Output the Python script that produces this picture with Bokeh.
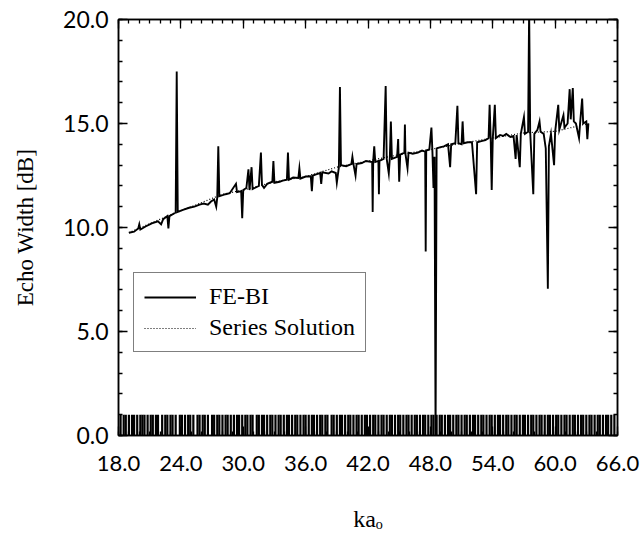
from bokeh.plotting import figure
from bokeh.models import (Range1d, SingleIntervalTicker, LinearAxis, Legend,
                          LegendItem, PrintfTickFormatter, CustomJSTickFormatter)
from bokeh.embed import file_html
from bokeh.resources import INLINE

# ---------------- data ----------------
febi_x = [19.0, 19.5, 19.9, 20.0, 20.1, 20.6, 21.2, 21.8, 22.1, 22.3, 22.7, 22.8, 22.9,
          23.5, 23.6, 23.7, 24.2, 24.8, 25.3, 25.8, 26.2, 26.6, 26.9, 27.2, 27.4, 27.5,
          27.6, 27.7, 28.3, 28.7, 29.3, 29.4, 29.8, 29.9, 30.0, 30.3, 30.5, 30.6, 30.8,
          30.9, 31.1, 31.5, 31.7, 31.8, 32.0, 32.3, 32.8, 32.9, 33.0, 33.5, 33.8, 34.2,
          34.3, 34.4, 34.8, 35.3, 35.4, 35.5, 36.0, 36.5, 36.6, 36.7, 37.0, 37.4, 37.5,
          37.6, 38.2, 38.5, 38.9, 39.0, 39.2, 39.3, 39.4, 39.9, 40.4, 40.5, 40.6, 40.8,
          40.9, 41.4, 41.8, 42.4, 42.45, 42.5, 42.6, 42.7, 43.0, 43.05, 43.1, 43.5, 43.7,
          43.8, 44.0, 44.1, 44.2, 44.3, 44.8, 44.9, 45.0, 45.1, 45.5, 45.55, 45.6, 45.8,
          45.9, 46.3, 46.8, 47.2, 47.5, 47.55, 47.6, 47.9, 48.1, 48.2, 48.3, 48.4, 48.5,
          48.6, 48.9, 49.3, 49.7, 49.9, 50.0, 50.4, 50.6, 50.7, 51.0, 51.1, 51.2, 51.6,
          52.0, 52.4, 52.5, 52.9, 53.3, 53.6, 53.7, 53.8, 53.9, 54.0, 54.2, 54.3, 54.7,
          55.0, 55.3, 55.7, 56.0, 56.2, 56.3, 56.6, 56.7, 57.0, 57.1, 57.4, 57.5, 57.6,
          57.9, 58.0, 58.3, 58.5, 58.6, 58.9, 59.1, 59.3, 59.4, 59.6, 59.9, 60.0, 60.3,
          60.4, 60.8, 60.9, 61.2, 61.4, 61.5, 61.7, 61.8, 62.0, 62.3, 62.4, 62.6, 62.7,
          63.0, 63.1, 63.2]
febi_y = [9.75, 9.8, 9.95, 10.15, 9.9, 10.05, 10.2, 10.3, 10.15, 10.4, 10.55, 9.95, 10.55,
          10.72, 17.5, 10.75, 10.85, 10.95, 11.0, 11.1, 11.15, 11.1, 11.25, 11.35, 11.0, 11.45,
          13.9, 11.5, 11.6, 11.65, 12.1, 11.7, 11.75, 10.45, 11.8, 11.9, 12.8, 11.8, 12.9,
          11.85, 11.9, 12.0, 13.6, 12.05, 11.9, 12.1, 12.2, 13.2, 12.15, 12.2, 12.25, 12.3,
          13.6, 12.3, 12.4, 12.38, 12.85, 12.35, 12.45, 12.46, 11.74, 12.5, 12.55, 12.62, 12.1,
          12.65, 12.6, 12.7, 12.62, 12.15, 12.9, 16.75, 13.0, 12.95, 13.05, 13.4, 13.05, 12.5,
          13.05, 13.1, 13.2, 13.15, 10.75, 13.2, 13.9, 13.15, 13.2, 11.6, 13.2, 13.3, 16.8,
          13.3, 12.6, 13.35, 15.1, 13.3, 13.4, 14.25, 12.2, 13.5, 13.6, 14.95, 13.55, 12.85,
          13.6, 13.55, 13.6, 13.7, 13.65, 8.85, 13.7, 13.75, 14.8, 13.6, 11.9, 13.4, 0.0,
          13.8, 13.85, 13.9, 14.0, 12.9, 14.0, 14.05, 15.85, 14.05, 14.0, 15.1, 14.05, 14.1,
          14.1, 11.6, 14.1, 14.15, 14.2, 14.3, 15.9, 14.3, 11.8, 14.25, 15.9, 14.3, 14.45,
          14.4, 14.5, 14.35, 14.4, 13.3, 14.45, 12.9, 14.5, 15.3, 14.5, 14.6, 20.5, 14.6,
          11.6, 14.5, 14.7, 15.1, 14.6, 14.5, 13.8, 7.05, 13.9, 14.5, 13.0, 14.6, 15.9,
          14.7, 15.4, 14.8, 15.0, 16.65, 15.2, 16.7, 15.1, 15.0, 14.3, 15.0, 16.2, 15.0,
          15.1, 14.25, 15.0]

series_x = [19.0, 22.0, 25.0, 28.0, 30.0, 33.0, 36.0, 39.0, 42.0, 45.0, 48.0, 51.0,
            54.0, 57.0, 60.0, 63.2]
series_y = [9.75, 10.4, 11.0, 11.6, 11.8, 12.2, 12.45, 12.9, 13.2, 13.5, 13.75, 14.05,
            14.3, 14.55, 14.62, 15.0]

band_x = [18.2, 18.5, 18.7, 19.0, 19.3, 19.5, 19.8, 20.1, 20.3, 20.5, 20.8, 21.1, 21.3,
          21.6, 21.8, 22.2, 22.5, 22.7, 23.0, 23.2, 23.5, 23.9, 24.1, 24.4, 24.7, 24.9,
          25.2, 25.6, 25.8, 26.1, 26.3, 26.6, 27.0, 27.2, 27.5, 27.7, 28.0, 28.3, 28.5,
          28.8, 29.1, 29.4, 29.6, 29.9, 30.2, 30.4, 30.7, 30.9, 31.3, 31.5, 31.8, 32.0,
          32.3, 32.6, 32.8, 33.1, 33.4, 33.6, 33.9, 34.2, 34.4, 34.7, 35.0, 35.2, 35.5,
          35.8, 36.0, 36.3, 36.6, 36.8, 37.1, 37.4, 37.6, 37.9, 38.1, 38.5, 38.7, 39.0,
          39.3, 39.5, 39.8, 40.1, 40.3, 40.6, 40.9, 41.1, 41.4, 41.7, 41.9, 42.2, 42.5,
          42.7, 43.0, 43.3, 43.5, 43.8, 44.1, 44.3, 44.6, 44.9, 45.1, 45.4, 45.7, 45.9,
          46.2, 46.5, 46.7, 47.0, 47.3, 47.5, 47.8, 48.1, 48.3, 48.6, 48.9, 49.1, 49.4,
          49.7, 49.9, 50.2, 50.5, 50.7, 51.0, 51.3, 51.5, 51.8, 52.1, 52.3, 52.6, 52.9,
          53.1, 53.4, 53.7, 53.9, 54.2, 54.5, 54.7, 55.0, 55.3, 55.5, 55.8, 56.1, 56.3,
          56.6, 56.9, 57.1, 57.4, 57.7, 57.9, 58.2, 58.5, 58.7, 59.0, 59.3, 59.5, 59.8,
          60.1, 60.3, 60.6, 60.9, 61.1, 61.4, 61.7, 61.9, 62.2, 62.5, 62.7, 63.0, 63.3,
          63.5, 63.8, 64.1, 64.3, 64.6, 64.9, 65.1, 65.4, 65.7]
band_height = 1.0

x_limits = (18.0, 66.0)
y_limits = (0.0, 20.0)
x_tick_step = 6.0
y_tick_step = 5.0

# ---------------- figure ----------------
TICK_FONT = "Lato"
SERIF = "Liberation Serif"

p = figure(width=642, height=543, x_range=Range1d(*x_limits), y_range=Range1d(*y_limits),
           output_backend="svg", toolbar_location=None,
           min_border_left=118, min_border_right=25, min_border_top=19, min_border_bottom=108)
p.xgrid.visible = False
p.ygrid.visible = False
p.outline_line_color = "black"
p.outline_line_width = 1.5
p.background_fill_color = "white"
p.border_fill_color = "white"

xt = SingleIntervalTicker(interval=x_tick_step, num_minor_ticks=6)
yt = SingleIntervalTicker(interval=y_tick_step, num_minor_ticks=5)


def style(ax, size=None):
    ax.axis_line_color = "black"
    ax.axis_line_width = 1.5
    ax.major_tick_in = 9
    ax.major_tick_out = 0
    ax.minor_tick_in = 4
    ax.minor_tick_out = 0
    ax.major_tick_line_color = "black"
    ax.minor_tick_line_color = "black"
    ax.major_tick_line_width = 1.3
    ax.minor_tick_line_width = 1.3
    if size:
        ax.major_label_text_font = TICK_FONT
        ax.major_label_text_font_size = size
        ax.major_label_text_color = "black"
        ax.formatter = PrintfTickFormatter(format="%.1f")
    else:
        ax.formatter = CustomJSTickFormatter(code="return ''")
        ax.major_label_standoff = 0


style(p.xaxis[0], "22px")
p.xaxis[0].ticker = xt
p.xaxis[0].major_label_standoff = 20
p.xaxis[0].axis_label = "ka\u2092"
p.xaxis[0].axis_label_text_font = SERIF
p.xaxis[0].axis_label_text_font_size = "24px"
p.xaxis[0].axis_label_text_font_style = "normal"
p.xaxis[0].axis_label_text_color = "black"
p.xaxis[0].axis_label_standoff = 32

style(p.yaxis[0], "23px")
p.yaxis[0].ticker = yt
p.yaxis[0].major_label_standoff = 10
p.yaxis[0].axis_label = "Echo Width [dB]"
p.yaxis[0].axis_label_text_font = SERIF
p.yaxis[0].axis_label_text_font_size = "23px"
p.yaxis[0].axis_label_text_font_style = "normal"
p.yaxis[0].axis_label_text_color = "black"
p.yaxis[0].axis_label_standoff = 22

top_ax = LinearAxis(ticker=xt)
style(top_ax)
p.add_layout(top_ax, "above")
right_ax = LinearAxis(ticker=yt)
style(right_ax)
p.add_layout(right_ax, "right")

# bottom band of dense vertical strokes
p.segment(x0=band_x, y0=[0.0] * len(band_x), x1=band_x, y1=[band_height] * len(band_x),
          line_color="black", line_width=2.2)

r_series = p.line(series_x, series_y, line_color="black", line_width=1.2, line_dash="1 2")
r_febi = p.line(febi_x, febi_y, line_color="black", line_width=1.9, line_join="miter")

legend = Legend(items=[LegendItem(label="FE-BI", renderers=[r_febi]),
                       LegendItem(label="Series Solution", renderers=[r_series])],
                location=(15, 83))
legend.label_text_font = SERIF
legend.label_text_font_size = "24px"
legend.label_text_color = "black"
legend.glyph_width = 52
legend.glyph_height = 24
legend.label_height = 24
legend.label_standoff = 13
legend.padding = 10
legend.spacing = 4
legend.margin = 0
legend.border_line_color = "black"
legend.border_line_width = 1.5
legend.background_fill_alpha = 1.0
p.add_layout(legend)

open("out.html", "w").write(file_html(p, INLINE))
